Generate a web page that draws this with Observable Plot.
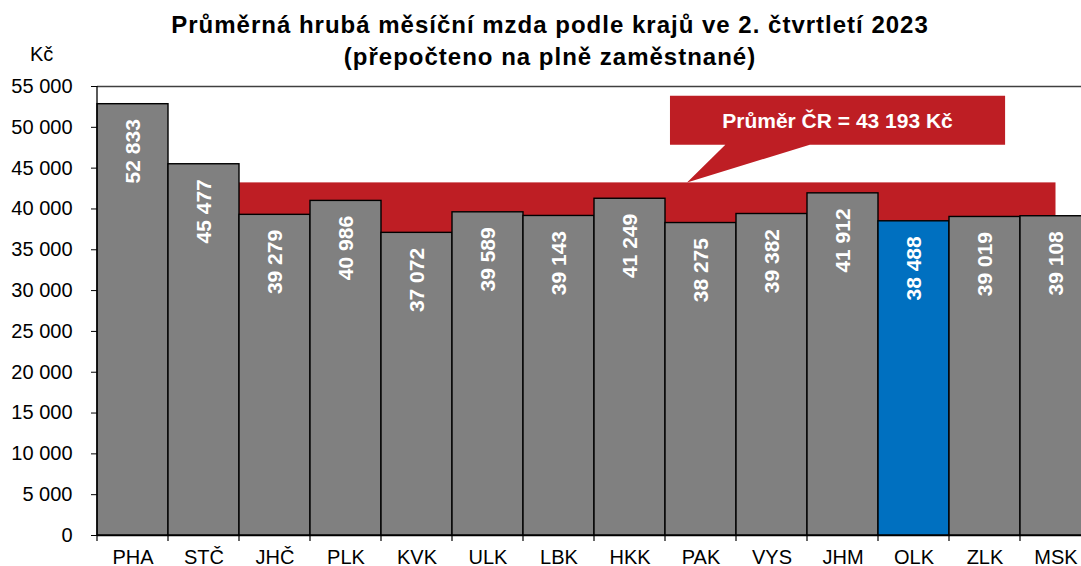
<!DOCTYPE html>
<html><head><meta charset="utf-8">
<script src="https://cdn.jsdelivr.net/npm/d3@7"></script>
<script src="https://cdn.jsdelivr.net/npm/@observablehq/plot@0.6"></script>
<style>
body{margin:0;background:#fff;font-family:"Liberation Sans",Arial,sans-serif;}
#wrap{position:relative;width:1081px;height:566px;overflow:hidden;}
#title{height:68px;box-sizing:border-box;padding-top:9px;padding-left:19px;text-align:center;font-weight:bold;font-size:24px;letter-spacing:1px;line-height:32px;color:#000;white-space:nowrap;}
#unit{position:absolute;left:30px;top:43px;font-size:20px;color:#000;}
#chart svg{display:block;}
</style></head><body>
<div id="wrap">
<div id="title">Průměrná hrubá měsíční mzda podle krajů ve 2. čtvrtletí 2023<br>(přepočteno na plně zaměstnané)</div>
<div id="unit">Kč</div>
<div id="chart"></div>
</div>
<script>
const regions = ["PHA","STČ","JHČ","PLK","KVK","ULK","LBK","HKK","PAK","VYS","JHM","OLK","ZLK","MSK"];
const wages = [52833,45477,39279,40986,37072,39589,39143,41249,38275,39382,41912,38488,39019,39108];
const highlight = "OLK";
const average = 43193;
const averageLabel = "Průměr ČR = 43 193 Kč";
const yTicks = [0,5000,10000,15000,20000,25000,30000,35000,40000,45000,50000,55000];

const data = regions.map((r, i) => ({region: r, wage: wages[i]}));
const fmt = v => d3.format(",")(v).replace(/,/g, " ");
const RED = "#be1e24", GRAY = "#808080", BLUE = "#0070c0";

function bandMark(index, {x, y}) {
  const bw = x.bandwidth();
  const xa = x(regions[0]) + bw / 2, xb = x(regions[regions.length - 1]) + bw / 2;
  const g = d3.create("svg:g");
  g.append("rect").attr("x", xa).attr("y", y(average)).attr("width", xb - xa)
    .attr("height", y(0) - y(average)).attr("fill", RED);
  return g.node();
}

function frameMark(index, {x, y}) {
  const bw = x.bandwidth();
  const x0 = x(regions[0]);
  const g = d3.create("svg:g").attr("fill", "none");
  g.append("line").attr("x1", x0).attr("x2", x0).attr("y1", y(55000)).attr("y2", y(0))
    .attr("stroke", "#000").attr("stroke-width", 1.3);
  for (let i = 0; i <= regions.length; i++) {
    const xi = x0 + i * bw;
    g.append("line").attr("x1", xi).attr("x2", xi).attr("y1", y(0)).attr("y2", y(0) + 6)
      .attr("stroke", "#000").attr("stroke-width", 1.2);
  }
  return g.node();
}

function calloutMark(index, {x, y}) {
  const bw = x.bandwidth();
  const bx0 = x("PAK") + 0.07 * bw, bx1 = x("ZLK") + 0.79 * bw;
  const by0 = y(53800), by1 = y(47800);
  const px0 = x("PAK") + 0.85 * bw, px1 = x("JHM") + 0.04 * bw;
  const tipX = x("PAK") + 0.31 * bw, tipY = y(average);
  const g = d3.create("svg:g");
  g.append("path").attr("fill", RED).attr("d",
    `M${bx0},${by0}H${bx1}V${by1}H${px1}L${tipX},${tipY}L${px0},${by1}H${bx0}Z`);
  g.append("text").attr("x", (bx0 + bx1) / 2).attr("y", (by0 + by1) / 2).attr("dy", "0.35em")
    .attr("text-anchor", "middle").attr("fill", "#fff").attr("font-weight", "bold")
    .attr("font-size", 21).text(averageLabel);
  return g.node();
}

const chart = Plot.plot({
  width: 1081,
  height: 498,
  marginTop: 18,
  marginBottom: 31,
  marginLeft: 97,
  marginRight: 0,
  style: {fontFamily: "'Liberation Sans', Arial, sans-serif", fontSize: "20px", color: "#000", background: "#fff", overflow: "visible"},
  x: {domain: regions, range: [97, 1091], padding: 0, label: null},
  y: {domain: [0, 55000], label: null},
  color: {type: "identity"},
  marks: [
    bandMark,
    Plot.barY(data, {x: "region", y: "wage", fill: d => d.region === highlight ? BLUE : GRAY, stroke: "#000", strokeWidth: 1.4}),
    Plot.text(data, {x: "region", y: "wage", text: d => fmt(d.wage), rotate: -90, textAnchor: "end", lineAnchor: "middle", dy: 15, fill: "#fff", fontWeight: "bold", fontSize: 21}),
    Plot.ruleY([0], {stroke: "#000", strokeWidth: 1.5}),
    Plot.ruleY([55000], {stroke: "#404040", strokeWidth: 1.3}),
    frameMark,
    Plot.axisY({ticks: yTicks, tickFormat: fmt, tickSize: 6, tickPadding: 19, fontSize: 20, label: null, stroke: "#000"}),
    Plot.axisX({tickSize: 0, tickPadding: 14, fontSize: 20, label: null}),
    calloutMark
  ]
});
document.getElementById("chart").appendChild(chart);
</script>
</body></html>
